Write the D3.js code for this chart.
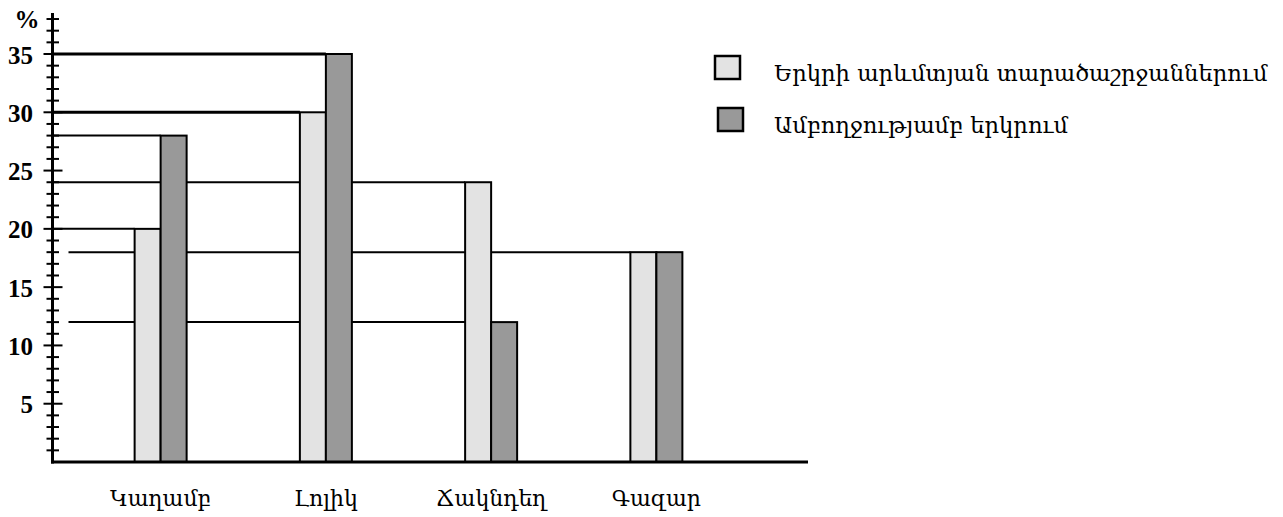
<!DOCTYPE html>
<html>
<head>
<meta charset="utf-8">
<script src="https://cdn.jsdelivr.net/npm/d3@7"></script>
<style>
  body { margin: 0; background: #fff; }
  svg { display: block; }
  .arm { font-family: "DejaVu Serif", "DejaVu Sans", serif; }
  .num { font-family: "Liberation Serif", "Times New Roman", serif; font-weight: bold; }
</style>
</head>
<body>
<svg id="chart" width="1283" height="517"></svg>
<script>
  // data
  const categories = ["Կաղամբ", "Լոլիկ", "Ճակնդեղ", "Գազար"];
  const seriesNames = ["Երկրի արևմտյան տարածաշրջաններում", "Ամբողջությամբ  երկրում"];
  const westValues = [20, 30, 24, 18];
  const countryValues = [28, 35, 12, 18];
  const yTickLabels = [5, 10, 15, 20, 25, 30, 35];

  const colors = ["#e3e3e3", "#999999"];
  const barW = 26;

  const svg = d3.select("#chart");

  const x = d3.scalePoint().domain(categories).range([78, 739]).padding(0.5);
  const y = d3.scaleLinear().domain([0, 35]).range([462, 54]);
  const axisX = 52.5, axisTop = 13, axisRight = 808;

  const bars = [];
  categories.forEach((c, i) => {
    bars.push({cat: c, s: 0, v: westValues[i], x0: x(c) - barW});
    bars.push({cat: c, s: 1, v: countryValues[i], x0: x(c)});
  });

  /*============= guide lines from axis to each bar top ===============*/
  const guides = d3.group(bars, d => d.v);
  const guideData = Array.from(guides, ([v, bs]) => ({v, x1: d3.min(bs, b => b.x0)}));
  svg.append("g").selectAll("line")
    .data(guideData)
    .join("line")
    .attr("x1", d => d.v < 20 ? axisX + 16 : axisX)
    .attr("x2", d => d.x1)
    .attr("y1", d => y(d.v))
    .attr("y2", d => y(d.v))
    .attr("stroke", "#000")
    .attr("stroke-width", d => d.v >= 30 ? 3 : 2);

  /*============= bars ===============*/
  svg.append("g").selectAll("rect")
    .data(bars)
    .join("rect")
    .attr("x", d => d.x0)
    .attr("y", d => y(d.v))
    .attr("width", barW)
    .attr("height", d => y(0) - y(d.v))
    .attr("fill", d => colors[d.s])
    .attr("stroke", "#000")
    .attr("stroke-width", 2);

  /*============= y axis ===============*/
  const gy = svg.append("g");
  gy.append("line")
    .attr("x1", axisX).attr("x2", axisX)
    .attr("y1", axisTop).attr("y2", y(0) + 1.5)
    .attr("stroke", "#000").attr("stroke-width", 3);
  gy.selectAll("line.tick")
    .data(d3.range(1, 39))
    .join("line")
    .attr("class", "tick")
    .attr("x1", d => d % 5 === 0 ? axisX - 9 : axisX - 6)
    .attr("x2", d => d % 5 === 0 ? axisX + 10 : axisX + 6.5)
    .attr("y1", d => y(d)).attr("y2", d => y(d))
    .attr("stroke", "#000").attr("stroke-width", 2);
  gy.selectAll("text")
    .data(yTickLabels)
    .join("text")
    .attr("class", "num")
    .attr("x", 33)
    .attr("y", d => y(d))
    .attr("dy", "0.38em")
    .attr("text-anchor", "end")
    .attr("font-size", 25)
    .text(d => d);
  gy.append("text")
    .attr("class", "num")
    .attr("x", 27).attr("y", 19).attr("dy", "0.35em")
    .attr("text-anchor", "middle")
    .attr("font-size", 25)
    .text("%");

  /*============= x axis ===============*/
  svg.append("line")
    .attr("x1", axisX - 1.5).attr("x2", axisRight)
    .attr("y1", y(0)).attr("y2", y(0))
    .attr("stroke", "#000").attr("stroke-width", 3);
  svg.append("g").selectAll("text")
    .data(categories)
    .join("text")
    .attr("class", "arm")
    .attr("x", d => x(d))
    .attr("y", 506)
    .attr("text-anchor", "middle")
    .attr("font-size", 22)
    .text(d => d);

  /*============= legend ===============*/
  const legend = svg.append("g");
  const legY = [67.5, 119.5];
  const legX = [727.5, 730.5];
  const legTexts = seriesNames.map((name, i) => {
    legend.append("rect")
      .attr("x", legX[i] - 12.5).attr("y", legY[i] - 11.5)
      .attr("width", 25).attr("height", 23)
      .attr("fill", colors[i])
      .attr("stroke", "#000").attr("stroke-width", 2.5);
    return legend.append("text")
      .attr("class", "arm")
      .attr("x", 774)
      .attr("y", legY[i] + 13)
      .attr("font-size", 24)
      .text(name);
  });
  // shrink the legend font so the long line ends where the reference's does
  const len = legTexts[0].node().getComputedTextLength();
  const fs = Math.min(24, 24 * 494 / len);
  legTexts.forEach(t => t.attr("font-size", fs));
</script>
</body>
</html>
